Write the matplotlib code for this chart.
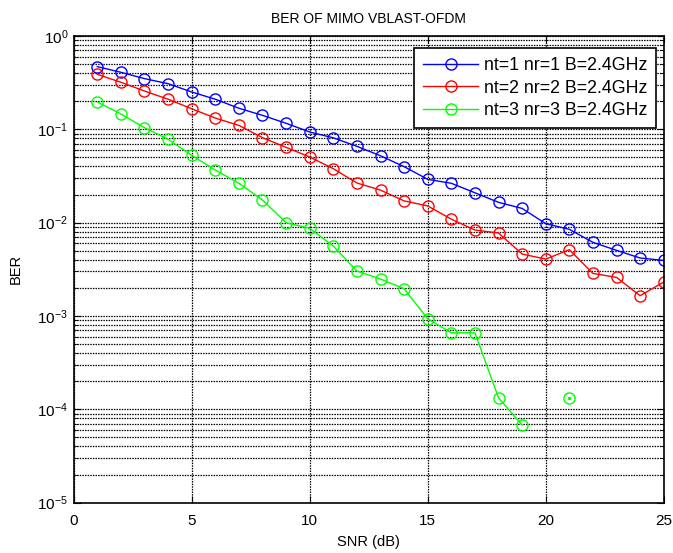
import numpy as np
import matplotlib
matplotlib.use("Agg")
import matplotlib.pyplot as plt
from matplotlib.ticker import LogLocator, NullFormatter, MultipleLocator

plt.rcParams['font.family'] = ['Liberation Sans', 'DejaVu Sans']
plt.rcParams['mathtext.fontset'] = 'custom'
plt.rcParams['mathtext.rm'] = 'Liberation Sans'
plt.rcParams['mathtext.it'] = 'Liberation Sans'

snr = list(range(1, 26))
ber_1x1 = [0.469, 0.408, 0.349, 0.308, 0.251, 0.210, 0.168, 0.141, 0.116, 0.0936,
           0.081, 0.0657, 0.052, 0.0398, 0.0291, 0.0264, 0.0209, 0.0165, 0.0142, 0.00975,
           0.00848, 0.00615, 0.00505, 0.00418, 0.00394]
ber_2x2 = [0.388, 0.319, 0.257, 0.210, 0.166, 0.132, 0.110, 0.0813, 0.064, 0.0505,
           0.0378, 0.0266, 0.0223, 0.0171, 0.0151, 0.0109, 0.00833, 0.00774, 0.00461, 0.00407,
           0.00513, 0.00286, 0.00259, 0.00165, 0.00231]
ber_3x3 = [0.196, 0.146, 0.104, 0.0782, 0.0526, 0.0366, 0.0264, 0.0175, 0.00998, 0.00869,
           0.00561, 0.00303, 0.00249, 0.00196, 0.000933, 0.000661, 0.000661, 0.000133, 0.0000677, np.nan,
           0.000133, np.nan, np.nan, np.nan, np.nan]
labels = ['nt=1 nr=1 B=2.4GHz', 'nt=2 nr=2 B=2.4GHz', 'nt=3 nr=3 B=2.4GHz']
colors = ['#0000ff', '#ff0000', '#00ff00']

fig = plt.figure(figsize=(6.73, 5.53), dpi=100)
ax = fig.add_axes([0.1095, 0.091, 0.8767, 0.844])

for y, lab, c in zip([ber_1x1, ber_2x2, ber_3x3], labels, colors):
    ax.semilogy(snr, y, '-o', color=c, mfc='none', mec=c, ms=8, lw=1, mew=1, label=lab)
# isolated point dot (MATLAB renders a dot in the middle of isolated marker)
ax.plot([snr[20]], [ber_3x3[20]], '.', color=colors[2], ms=3)

ax.set_xlim(0, 25)
ax.set_ylim(1e-5, 1)
ax.xaxis.set_major_locator(MultipleLocator(5))
ax.yaxis.set_major_locator(LogLocator(base=10, numticks=10))
ax.yaxis.set_minor_locator(LogLocator(base=10, subs=np.arange(2, 10), numticks=20))
ax.yaxis.set_minor_formatter(NullFormatter())

gls = (0, (1.2, 0.9))
ax.grid(True, which='major', axis='both', linestyle=gls, color='black', lw=0.9)
ax.grid(True, which='minor', axis='y', linestyle=gls, color='black', lw=0.9)

ax.tick_params(which='both', direction='in', top=True, right=True, labelsize=11)
ax.tick_params(axis='x', pad=8)
ax.tick_params(axis='y', pad=4)
ax.tick_params(which='major', length=5)
ax.tick_params(which='minor', length=3)
for s in ax.spines.values():
    s.set_linewidth(1.2)

ax.set_title('BER OF MIMO VBLAST-OFDM', fontsize=10, pad=9)
ax.set_xlabel('SNR (dB)', fontsize=10.5, labelpad=5)
ax.set_ylabel('BER', fontsize=10.5)
ax.yaxis.set_label_coords(-0.087, 0.5)

leg = ax.legend(loc='upper right', bbox_to_anchor=(0.987, 0.974), fontsize=12.8, frameon=True,
                fancybox=False, edgecolor='black', framealpha=1, handlelength=3.1,
                handletextpad=0.3, borderaxespad=0, labelspacing=0.32, borderpad=0.5)
leg.get_frame().set_linewidth(1.2)

fig.savefig('out.png', dpi=100)
